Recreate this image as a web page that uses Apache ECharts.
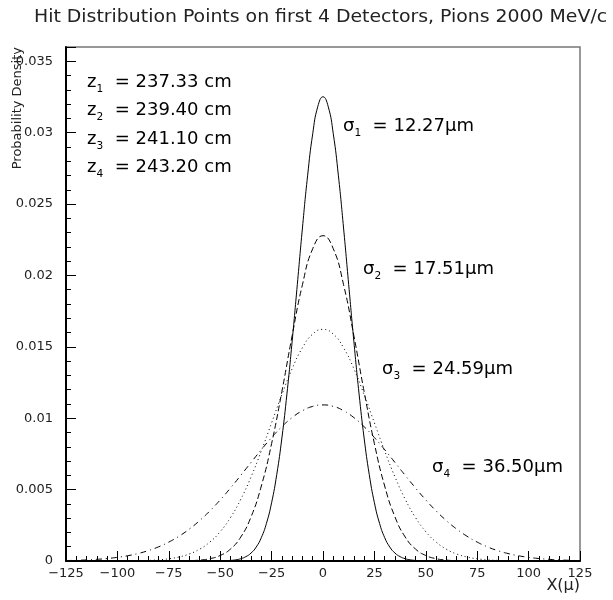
<!DOCTYPE html>
<html><head><meta charset="utf-8">
<script src="https://cdn.jsdelivr.net/npm/echarts@6/dist/echarts.min.js"></script>
<style>html,body{margin:0;padding:0;background:#fff}#c{width:613px;height:600px}</style>
</head><body><div id="c"></div>
<script>
// ---- data ----
const xNarrow = [-50,-47.5,-45,-42.5,-40,-37.5,-35,-32.5,-30,-27.5,-25,-22.5,-20,-17.5,-15,-12.5,-10,-7.5,-5,-2.5,0,2.5,5,7.5,10,12.5,15,17.5,20,22.5,25,27.5,30,32.5,35,37.5,40,42.5,45,47.5,50];
const xWide = [-125,-120,-115,-110,-105,-100,-95,-90,-85,-80,-75,-70,-65,-60,-55,-50,-45,-40,-35,-30,-25,-20,-15,-10,-5,0,5,10,15,20,25,30,35,40,45,50,55,60,65,70,75,80,85,90,95,100,105,110,115,120,125];
const sigma1Values = [0.0000081,0.0000181,0.000039,0.0000807,0.00016,0.000305,0.000556,0.000974,0.001637,0.002638,0.00408,0.006052,0.008613,0.011759,0.015401,0.019351,0.023325,0.026974,0.029924,0.031846,0.032514,0.031846,0.029924,0.026974,0.023325,0.019351,0.015401,0.011759,0.008613,0.006052,0.00408,0.002638,0.001637,0.000974,0.000556,0.000305,0.00016,0.0000807,0.000039,0.0000181,0.0000081];
const sigma2Values = [0,0,0,0,0,0,0,0,0,0.0000006,0.0000024,0.0000077,0.0000232,0.0000643,0.000164,0.000386,0.000838,0.001677,0.003091,0.005251,0.008222,0.011867,0.015786,0.019355,0.021874,0.022784,0.021874,0.019355,0.015786,0.011867,0.008222,0.005251,0.003091,0.001677,0.000838,0.000386,0.000164,0.0000643,0.0000232,0.0000077,0.0000024,0.0000006,0,0,0,0,0,0,0,0,0];
const sigma3Values = [0,0.0000001,0.0000003,0.0000007,0.0000018,0.0000042,0.0000093,0.00002,0.0000413,0.0000816,0.000155,0.000282,0.000493,0.000827,0.00133,0.002053,0.003041,0.004321,0.005892,0.007708,0.009676,0.011655,0.01347,0.014936,0.015892,0.016224,0.015892,0.014936,0.01347,0.011655,0.009676,0.007708,0.005892,0.004321,0.003041,0.002053,0.00133,0.000827,0.000493,0.000282,0.000155,0.0000816,0.0000413,0.00002,0.0000093,0.0000042,0.0000018,0.0000007,0.0000003,0.0000001,0];
const sigma4Values = [0.000031,0.0000492,0.0000764,0.000117,0.000174,0.000256,0.000369,0.000523,0.000726,0.00099,0.001324,0.001738,0.002239,0.00283,0.003512,0.004277,0.005112,0.005996,0.006902,0.007797,0.008645,0.009406,0.010045,0.010527,0.010828,0.01093,0.010828,0.010527,0.010045,0.009406,0.008645,0.007797,0.006902,0.005996,0.005112,0.004277,0.003512,0.00283,0.002239,0.001738,0.001324,0.00099,0.000726,0.000523,0.000369,0.000256,0.000174,0.000117,0.0000764,0.0000492,0.000031];
const zValues = ['237.33','239.40','241.10','243.20'];
const sigmaValues = ['12.27','17.51','24.59','36.50'];
const titleText = 'Hit Distribution Points on first 4 Detectors, Pions 2000 MeV/c';
const yAxisTitle = 'Probability Density';
const xAxisTitle = 'X(\u03bc)';

// ---- styling / layout ----
const FONT = '"DejaVu Sans", Verdana, sans-serif';
const TXT = '#222';
const pairs = (xs, ys) => xs.map((x, i) => [x, ys[i]]);
const richStyles = {
  m: { fontSize: 17, fontFamily: FONT, color: TXT, lineHeight: 22 },
  s: { fontSize: 10, fontFamily: FONT, color: TXT, lineHeight: 14, verticalAlign: 'bottom' }
};
function labelText(sym, idx, rest) { return '{m|' + sym + '}{s|' + idx + '}{m|  = ' + rest + '}'; }

const zPos = [[87, 83], [87, 111], [87, 140], [87, 168]];
const sPos = [[343, 127], [363, 270], [382, 370], [432, 468]];
const LABEL_STRETCH = 1.06;

const graphics = [];
zValues.forEach((v, i) => graphics.push({
  type: 'text', x: zPos[i][0], y: zPos[i][1], scaleX: LABEL_STRETCH,
  style: { text: labelText('z', i + 1, v + ' cm'), rich: richStyles, verticalAlign: 'middle', align: 'left' }
}));
sigmaValues.forEach((v, i) => graphics.push({
  type: 'text', x: sPos[i][0], y: sPos[i][1], scaleX: LABEL_STRETCH,
  style: { text: labelText('\u03c3', i + 1, v + '\u03bcm'), rich: richStyles, verticalAlign: 'middle', align: 'left' }
}));
graphics.push({
  type: 'text', x: 18, y: 47, rotation: Math.PI / 2,
  style: { text: yAxisTitle, fontSize: 13, fontFamily: FONT, fill: TXT, align: 'right', verticalAlign: 'middle' }
});
graphics.push({
  type: 'text', x: 580, y: 586,
  style: { text: xAxisTitle, fontSize: 16, fontFamily: FONT, fill: TXT, align: 'right', verticalAlign: 'middle' }
});
graphics.push({
  type: 'text', x: 34, y: 18, scaleX: 1.11,
  style: { text: titleText, fontSize: 17, fontFamily: FONT, fill: TXT, align: 'left', verticalAlign: 'middle' }
});

const minus = v => String(v).replace('-', '\u2212');
const lineBase = { color: '#000', width: 1 };
const tickStyle = { color: '#000', width: 1 };

const chart = echarts.init(document.getElementById('c'), null, { renderer: 'canvas' });
chart.setOption({
  animation: false,
  backgroundColor: '#fff',
  grid: { left: 66, right: 33, top: 47, bottom: 39, show: true, borderColor: '#777', borderWidth: 1.5, backgroundColor: 'transparent' },
  xAxis: {
    type: 'value', min: -125, max: 125, interval: 25,
    axisLine: { show: true, onZero: false, lineStyle: { color: '#000', width: 2 } },
    axisTick: { show: true, inside: true, length: 10, lineStyle: tickStyle },
    minorTick: { show: true, splitNumber: 5, length: 5, lineStyle: tickStyle },
    splitLine: { show: false },
    axisLabel: { color: TXT, fontSize: 13, fontFamily: FONT, margin: 6, formatter: minus }
  },
  yAxis: {
    type: 'value', min: 0, max: 0.036, interval: 0.005,
    axisLine: { show: true, onZero: false, lineStyle: { color: '#000', width: 2 } },
    axisTick: { show: true, inside: true, length: 10, lineStyle: tickStyle },
    minorTick: { show: true, splitNumber: 5, length: 5, lineStyle: tickStyle },
    splitLine: { show: false },
    axisLabel: { color: TXT, fontSize: 13, fontFamily: FONT, margin: 13, showMaxLabel: false }
  },
  series: [
    { type: 'line', data: pairs(xNarrow, sigma1Values), smooth: true, showSymbol: false, lineStyle: Object.assign({}, lineBase, { type: 'solid' }) },
    { type: 'line', data: pairs(xWide, sigma2Values), smooth: true, showSymbol: false, lineStyle: Object.assign({}, lineBase, { type: [6, 3] }) },
    { type: 'line', data: pairs(xWide, sigma3Values), smooth: true, showSymbol: false, lineStyle: Object.assign({}, lineBase, { type: [1, 3] }) },
    { type: 'line', data: pairs(xWide, sigma4Values), smooth: true, showSymbol: false, lineStyle: Object.assign({}, lineBase, { type: [6, 4, 1, 4] }) }
  ],
  graphic: graphics
});
</script>
</body></html>
